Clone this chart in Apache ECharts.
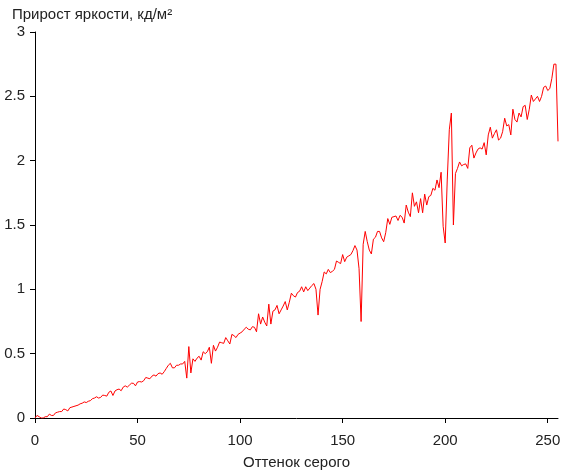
<!DOCTYPE html>
<html>
<head>
<meta charset="utf-8">
<script src="https://cdn.jsdelivr.net/npm/echarts@6/dist/echarts.min.js"></script>
<style>html,body{margin:0;padding:0;background:#fff}#c{width:561px;height:471px}</style>
</head>
<body>
<div id="c"></div>
<script>
const titleText = "Прирост яркости, кд/м²";
const xAxisName = "Оттенок серого";
const xTicks = [0, 50, 100, 150, 200, 250];
const yTicks = [0, 0.5, 1, 1.5, 2, 2.5, 3];
const gray = Array.from({length: 256}, (_, i) => i);
const increment = [
 0.00,0.02,0.01,0.00,0.00,0.01,0.01,0.03,0.02,0.02,
 0.04,0.045,0.05,0.05,0.07,0.065,0.055,0.08,0.085,0.09,
 0.095,0.10,0.11,0.115,0.125,0.12,0.13,0.135,0.15,0.155,
 0.165,0.155,0.16,0.178,0.175,0.17,0.20,0.21,0.175,0.21,
 0.22,0.225,0.212,0.24,0.25,0.24,0.255,0.27,0.27,0.25,
 0.28,0.283,0.28,0.29,0.315,0.31,0.305,0.325,0.335,0.325,
 0.345,0.35,0.34,0.36,0.385,0.41,0.425,0.39,0.39,0.41,
 0.41,0.42,0.42,0.44,0.31,0.555,0.35,0.46,0.44,0.465,
 0.48,0.45,0.515,0.50,0.515,0.55,0.425,0.565,0.52,0.55,
 0.59,0.585,0.58,0.625,0.60,0.575,0.65,0.64,0.625,0.65,
 0.66,0.67,0.69,0.705,0.69,0.685,0.71,0.705,0.67,0.81,
 0.73,0.785,0.745,0.715,0.885,0.73,0.83,0.84,0.875,0.81,
 0.84,0.87,0.905,0.84,0.90,0.97,0.95,0.94,0.975,0.985,
 1.02,0.98,1.02,0.99,1.01,1.03,1.045,1.00,0.80,1.00,
 1.06,1.135,1.12,1.155,1.13,1.14,1.155,1.22,1.21,1.20,
 1.27,1.215,1.25,1.26,1.27,1.30,1.34,1.305,1.16,0.75,
 1.35,1.45,1.37,1.305,1.275,1.39,1.405,1.45,1.45,1.40,
 1.37,1.44,1.55,1.505,1.56,1.565,1.57,1.535,1.575,1.56,
 1.515,1.655,1.60,1.565,1.75,1.645,1.68,1.595,1.705,1.595,
 1.74,1.655,1.72,1.73,1.785,1.77,1.85,1.79,1.91,1.49,
 1.36,1.85,2.24,2.37,1.50,1.90,1.94,1.99,1.96,1.97,
 1.975,1.94,2.10,2.12,2.02,2.06,2.09,2.10,2.09,2.14,
 2.045,2.20,2.26,2.175,2.21,2.24,2.16,2.175,2.225,2.33,
 2.27,2.28,2.20,2.40,2.32,2.30,2.37,2.34,2.42,2.43,
 2.32,2.40,2.51,2.46,2.48,2.50,2.46,2.50,2.57,2.58,
 2.545,2.56,2.64,2.75,2.75,2.15
];
const font = "'Liberation Sans', Arial, sans-serif";
const chart = echarts.init(document.getElementById('c'), null, {renderer: 'canvas'});
chart.setOption({
  animation: false,
  backgroundColor: '#ffffff',
  title: {
    text: titleText, left: 7, top: 2,
    textStyle: {fontFamily: font, fontSize: 15, fontWeight: 'normal', color: '#222'}
  },
  grid: {left: 35, right: 3, top: 32, bottom: 53, containLabel: false, outerBoundsMode: 'none'},
  xAxis: {
    type: 'value', min: 0, max: 255, interval: 50,
    name: xAxisName, nameLocation: 'middle', nameGap: 37,
    nameTextStyle: {fontFamily: font, fontSize: 15, color: '#222'},
    axisLine: {show: true, lineStyle: {color: '#000', width: 1}},
    axisTick: {show: true, length: 5, lineStyle: {color: '#000'}},
    axisLabel: {fontFamily: font, fontSize: 15, color: '#222', margin: 15,
      showMaxLabel: false,
      formatter: v => xTicks.includes(v) ? String(v) : ''},
    splitLine: {show: false}
  },
  yAxis: {
    type: 'value', min: 0, max: 3, interval: 0.5,
    axisLine: {show: true, lineStyle: {color: '#000', width: 1}},
    axisTick: {show: true, length: 5, lineStyle: {color: '#000'}},
    axisLabel: {fontFamily: font, fontSize: 15, color: '#222', margin: 10,
      formatter: v => yTicks.includes(v) ? String(v) : ''},
    splitLine: {show: false}
  },
  series: [{
    type: 'line', data: gray.map((g, i) => [g, increment[i]]),
    showSymbol: false, symbol: 'none',
    lineStyle: {color: '#ff0000', width: 1}
  }]
});
</script>
</body>
</html>
